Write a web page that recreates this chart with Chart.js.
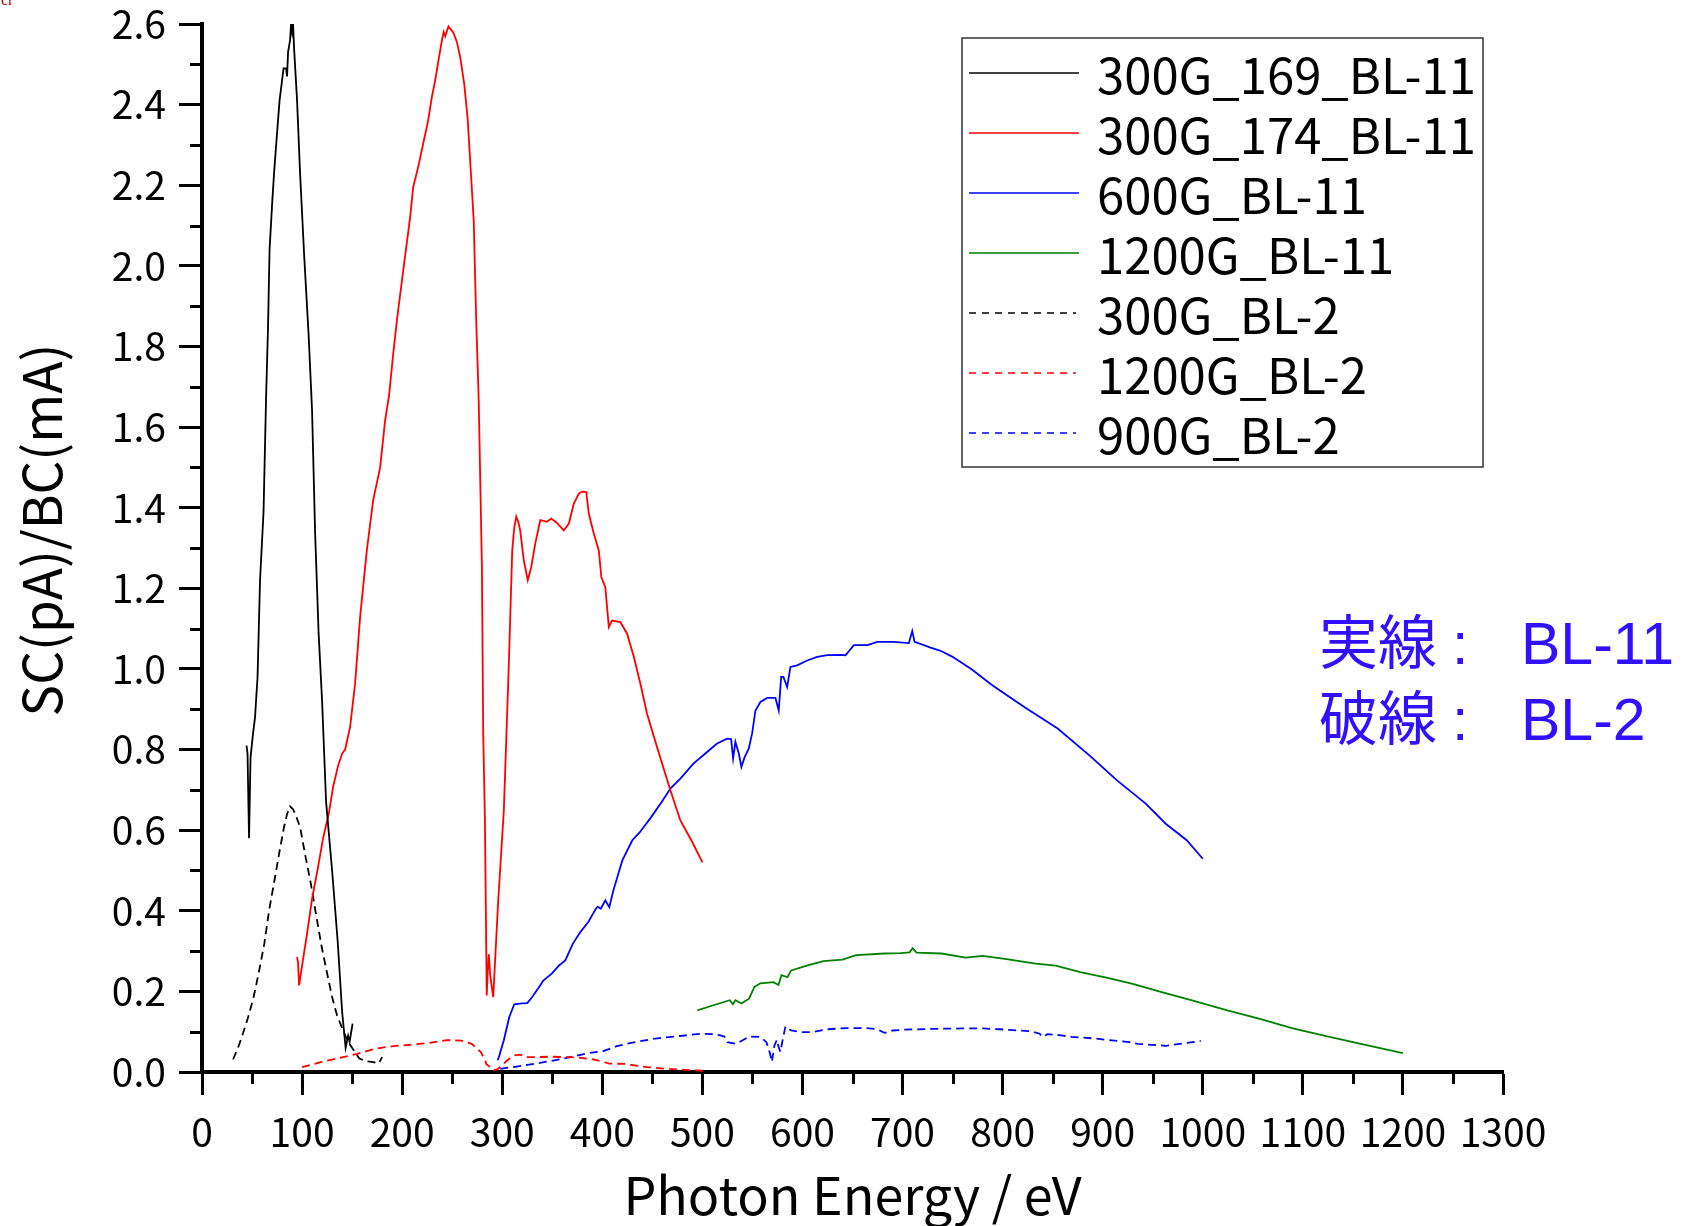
<!DOCTYPE html>
<html lang="ja">
<head>
<meta charset="UTF-8">
<title>SC/BC vs Photon Energy</title>
<script src="https://cdn.jsdelivr.net/npm/chart.js"></script>
<style>
  html, body { margin: 0; padding: 0; background: #fff; }
</style>
</head>
<body>
<canvas id="chart" width="1692" height="1226"></canvas>
<script>
// --- series (photon energy in eV, SC/BC values) ---
const g300_169_bl11_x = [44.5, 45.5, 47, 48.5, 51, 53, 55.5, 58, 61.5, 64, 66, 67.5, 70, 72, 75, 77.5, 80, 81.5, 84, 85, 86, 88, 89, 90, 91, 92, 95, 98, 102, 106.5, 110, 113, 116.5, 120, 124, 130, 135.7, 140, 143.5, 146, 147.5, 150.5];
const g300_169_bl11_y = [0.81, 0.79, 0.58, 0.78, 0.84, 0.88, 0.98, 1.22, 1.39, 1.67, 1.85, 2.04, 2.15, 2.23, 2.33, 2.41, 2.46, 2.49, 2.49, 2.47, 2.53, 2.56, 2.60, 2.58, 2.60, 2.54, 2.41, 2.23, 2.03, 1.83, 1.64, 1.34, 1.09, 0.92, 0.67, 0.50, 0.32, 0.15, 0.06, 0.09, 0.075, 0.12];

const g300_174_bl11_x = [95, 96, 97, 101, 105, 110, 116, 121, 126.6, 131, 136, 140, 143, 148, 153, 158, 164.7, 171, 178, 183, 187, 191, 195, 201.5, 208, 211, 216, 221, 226, 229.7, 233, 236.3, 239.7, 241.5, 243, 246.3, 251.3, 254.7, 258, 262, 265.3, 268, 271.5, 274, 276.5, 279.7, 281, 282.7, 284.5, 285.5, 286.6, 288, 291, 296, 301.6, 306.5, 310, 312, 314, 316, 318, 321.5, 325.5, 329, 333, 338, 344.7, 349, 354.7, 361.5, 366.5, 371.5, 376.5, 380, 384, 386.5, 391.5, 396.5, 399, 403, 406.5, 409.7, 418, 424.7, 431.5, 438, 444.7, 454.7, 468, 478, 490, 500];
const g300_174_bl11_y = [0.285, 0.27, 0.215, 0.28, 0.344, 0.43, 0.509, 0.58, 0.64, 0.707, 0.76, 0.79, 0.80, 0.856, 0.964, 1.129, 1.294, 1.418, 1.50, 1.617, 1.68, 1.78, 1.87, 1.997, 2.121, 2.195, 2.245, 2.303, 2.361, 2.419, 2.46, 2.51, 2.559, 2.58, 2.57, 2.594, 2.578, 2.555, 2.518, 2.452, 2.37, 2.26, 2.113, 1.865, 1.666, 1.253, 0.84, 0.624, 0.19, 0.25, 0.292, 0.24, 0.186, 0.426, 0.649, 1.005, 1.294, 1.35, 1.378, 1.365, 1.343, 1.27, 1.22, 1.253, 1.311, 1.369, 1.365, 1.373, 1.362, 1.344, 1.36, 1.41, 1.435, 1.44, 1.439, 1.385, 1.336, 1.294, 1.228, 1.203, 1.104, 1.12, 1.116, 1.088, 1.03, 0.964, 0.889, 0.806, 0.699, 0.624, 0.57, 0.52];

const g600_bl11_x = [295.5, 297, 301.6, 307, 312, 319.6, 325, 330, 338, 341, 349.5, 357, 363, 370.5, 378, 386, 393.5, 395.5, 398.5, 403, 407, 411, 420, 430, 437.5, 449, 460.5, 468, 478, 491, 504.7, 514.7, 524.7, 528.7, 530.7, 533, 536.4, 539, 542, 546.3, 549.7, 553, 558, 564.7, 573, 576.3, 578.7, 581, 584.7, 588, 594.7, 604.7, 614.7, 624.7, 638, 643, 651.3, 665, 674.7, 691, 706.3, 709.7, 712, 721.3, 728, 738, 750, 769, 790, 822, 855, 887, 914, 943, 963, 984, 1000];
const g600_bl11_y = [0.029, 0.04, 0.079, 0.136, 0.168, 0.17, 0.171, 0.186, 0.215, 0.227, 0.244, 0.265, 0.277, 0.318, 0.347, 0.372, 0.405, 0.41, 0.405, 0.426, 0.409, 0.45, 0.525, 0.575, 0.595, 0.633, 0.674, 0.703, 0.728, 0.765, 0.794, 0.815, 0.827, 0.826, 0.778, 0.819, 0.79, 0.757, 0.78, 0.802, 0.84, 0.897, 0.918, 0.928, 0.928, 0.897, 0.98, 0.98, 0.955, 1.005, 1.009, 1.021, 1.03, 1.034, 1.035, 1.034, 1.059, 1.059, 1.067, 1.067, 1.064, 1.094, 1.067, 1.059, 1.053, 1.045, 1.03, 0.999, 0.959, 0.905, 0.852, 0.785, 0.724, 0.666, 0.616, 0.575, 0.529];

const g1200_bl11_x = [495, 510, 527.4, 530.5, 533, 539, 546.6, 552, 558, 571, 576, 579, 585, 588.7, 606, 621, 640, 653.7, 682, 698, 707, 710, 714, 739, 763, 780, 804, 833, 853, 877.6, 906, 931, 959, 992, 1024.5, 1057, 1090, 1126.6, 1167, 1200];
const g1200_bl11_y = [0.153, 0.165, 0.178, 0.168, 0.178, 0.17, 0.182, 0.211, 0.22, 0.223, 0.216, 0.24, 0.235, 0.252, 0.265, 0.275, 0.279, 0.29, 0.294, 0.295, 0.297, 0.307, 0.296, 0.294, 0.284, 0.288, 0.28, 0.269, 0.264, 0.248, 0.233, 0.218, 0.198, 0.176, 0.153, 0.132, 0.108, 0.087, 0.065, 0.047];

const g300_bl2_x = [31, 36, 41, 46, 51.6, 57, 62.3, 67, 73, 78, 82, 85, 88, 91, 94, 98, 103, 108.7, 114, 119.6, 125, 130, 135, 141, 146, 151.6, 157, 163, 169.6, 176.7, 180];
const g300_bl2_y = [0.031, 0.06, 0.096, 0.135, 0.186, 0.25, 0.319, 0.40, 0.484, 0.555, 0.608, 0.64, 0.659, 0.652, 0.635, 0.608, 0.54, 0.468, 0.39, 0.31, 0.245, 0.186, 0.14, 0.103, 0.075, 0.054, 0.034, 0.027, 0.025, 0.022, 0.037];

const g1200_bl2_x = [100, 119.6, 141, 155, 173, 191, 209, 226.6, 244.4, 258.7, 269.4, 278.4, 283, 284, 289, 291.6, 296, 305, 312, 317.6, 325, 334, 348, 361, 376, 391.6, 407, 422, 445, 464, 491, 502];
const g1200_bl2_y = [0.012, 0.025, 0.037, 0.045, 0.058, 0.064, 0.068, 0.072, 0.079, 0.078, 0.07, 0.05, 0.029, 0.02, 0.01, 0.004, 0.008, 0.029, 0.041, 0.043, 0.037, 0.037, 0.038, 0.037, 0.036, 0.031, 0.021, 0.02, 0.012, 0.008, 0.004, 0.003];

const g900_bl2_x = [298, 316, 334, 361, 384, 401, 414.5, 430, 453, 476, 499, 510, 518, 522, 525, 533, 539, 546.6, 558, 564, 567.6, 569.5, 572, 574.5, 576, 578, 580, 583, 588.7, 598, 610, 625, 644, 663, 675, 682, 690, 702, 730, 759, 780, 797, 816, 828, 837, 840, 845, 858.5, 869, 893, 902, 927, 935, 963, 984, 998];
const g900_bl2_y = [0.008, 0.014, 0.021, 0.033, 0.046, 0.052, 0.064, 0.073, 0.083, 0.089, 0.095, 0.094, 0.091, 0.088, 0.074, 0.07, 0.077, 0.088, 0.087, 0.074, 0.046, 0.025, 0.066, 0.08, 0.063, 0.05, 0.077, 0.113, 0.103, 0.099, 0.099, 0.106, 0.109, 0.109, 0.106, 0.097, 0.103, 0.105, 0.107, 0.108, 0.108, 0.106, 0.103, 0.101, 0.095, 0.087, 0.094, 0.091, 0.087, 0.083, 0.08, 0.074, 0.07, 0.065, 0.072, 0.077];

const seriesLabels = ["300G_169_BL-11", "300G_174_BL-11", "600G_BL-11", "1200G_BL-11", "300G_BL-2", "1200G_BL-2", "900G_BL-2"];

// axis settings
const xMin = 0, xMax = 1300, xStep = 100, xMinorStep = 50;
const yMin = 0, yMax = 2.6, yStep = 0.2, yMinorStep = 0.1;
const xTitle = "Photon Energy / eV";
const yTitle = "SC(pA)/BC(mA)";
const noteLines = [["実線", "BL-11"], ["破線", "BL-2"]];

const FONT = '"Noto Sans CJK JP", "Noto Sans", sans-serif';

function pts(xs, ys) {
    return xs.map((x, i) => ({ x: x, y: ys[i] }));
}

function line(label, xs, ys, color, dashed) {
    return {
        label: label,
        data: pts(xs, ys),
        borderColor: color,
        backgroundColor: color,
        borderWidth: 1.8,
        borderDash: dashed ? [8, 5] : [],
        pointRadius: 0,
        tension: 0,
        fill: false
    };
}

// minor tick marks (Chart.js has no minor ticks)
const minorTicks = {
    id: "minorTicks",
    afterDraw(chart) {
        const ctx = chart.ctx;
        const xs = chart.scales.x, ys = chart.scales.y;
        const area = chart.chartArea;
        ctx.save();
        ctx.strokeStyle = "#000";
        ctx.lineWidth = 3;
        ctx.beginPath();
        for (let v = xMinorStep; v < xMax; v += xStep) {
            const px = Math.round(xs.getPixelForValue(v)) + 0.5;
            ctx.moveTo(px, area.bottom);
            ctx.lineTo(px, area.bottom + 12);
        }
        for (let v = yMinorStep; v < yMax; v += yStep) {
            const py = Math.round(ys.getPixelForValue(v)) + 0.5;
            ctx.moveTo(area.left, py);
            ctx.lineTo(area.left - 12, py);
        }
        ctx.stroke();
        ctx.restore();
    }
};

// boxed legend in the top right
const boxLegend = {
    id: "boxLegend",
    afterDraw(chart) {
        const ctx = chart.ctx;
        ctx.save();
        ctx.strokeStyle = "#333";
        ctx.lineWidth = 1.5;
        ctx.strokeRect(962, 38, 521, 429);
        chart.data.datasets.forEach((ds, i) => {
            const y = 73 + i * 60;
            ctx.strokeStyle = ds.borderColor;
            ctx.lineWidth = 1.5;
            ctx.setLineDash(ds.borderDash.length ? [7, 6] : []);
            ctx.beginPath();
            ctx.moveTo(969, y);
            ctx.lineTo(ds.borderDash.length ? 1076 : 1079, y);
            ctx.stroke();
            ctx.setLineDash([]);
            ctx.fillStyle = "#000";
            ctx.font = "49px " + FONT;
            ctx.textBaseline = "middle";
            ctx.textAlign = "left";
            ctx.fillText(ds.label, 1097, y + 2);
        });
        ctx.restore();
    }
};

// y title, blue note, small corner mark
const extras = {
    id: "extras",
    afterDraw(chart) {
        const ctx = chart.ctx;
        ctx.save();
        // y axis title
        ctx.translate(42, 530);
        ctx.rotate(-Math.PI / 2);
        ctx.font = "53px " + FONT;
        ctx.fillStyle = "#000";
        ctx.textAlign = "center";
        ctx.textBaseline = "middle";
        ctx.fillText(yTitle, 0, 0);
        ctx.restore();

        ctx.save();
        ctx.fillStyle = "#3010ff";
        ctx.font = '59px "Liberation Sans", "Noto Sans CJK JP", sans-serif';
        ctx.textBaseline = "alphabetic";
        noteLines.forEach((ln, i) => {
            const by = 664 + i * 76;
            ctx.textAlign = "left";
            ctx.fillText(ln[0], 1319, by);
            ctx.fillText(":", 1452, by);
            ctx.fillText(ln[1], 1521, by);
        });
        ctx.fillStyle = "#c00000";
        ctx.font = "16px 'Liberation Serif', serif";
        ctx.fillText("cr", 1, 5);
        ctx.restore();
    }
};

const chart = new Chart(document.getElementById("chart"), {
    type: "line",
    data: {
        datasets: [
            line(seriesLabels[0], g300_169_bl11_x, g300_169_bl11_y, "#000000", false),
            line(seriesLabels[1], g300_174_bl11_x, g300_174_bl11_y, "#ff0000", false),
            line(seriesLabels[2], g600_bl11_x, g600_bl11_y, "#0000ff", false),
            line(seriesLabels[3], g1200_bl11_x, g1200_bl11_y, "#008000", false),
            line(seriesLabels[4], g300_bl2_x, g300_bl2_y, "#000000", true),
            line(seriesLabels[5], g1200_bl2_x, g1200_bl2_y, "#ff0000", true),
            line(seriesLabels[6], g900_bl2_x, g900_bl2_y, "#0000ff", true)
        ]
    },
    options: {
        responsive: false,
        animation: false,
        devicePixelRatio: 1,
        layout: { padding: { left: 0, top: 24, right: 189, bottom: 0 } },
        plugins: {
            legend: { display: false },
            tooltip: { enabled: false }
        },
        scales: {
            x: {
                type: "linear",
                min: xMin,
                max: xMax,
                afterFit: s => { s.height = 154; s.paddingLeft = 0; s.paddingRight = 0; },
                ticks: {
                    stepSize: xStep,
                    autoSkip: false,
                    maxRotation: 0,
                    padding: 14,
                    color: "#000",
                    font: { family: FONT, size: 39 },
                    callback: v => String(v)
                },
                grid: {
                    drawOnChartArea: false,
                    drawTicks: true,
                    tickLength: 23,
                    tickWidth: 3,
                    tickColor: "#000"
                },
                border: { display: true, color: "#000", width: 4 },
                title: {
                    display: true,
                    text: xTitle,
                    color: "#000",
                    font: { family: FONT, size: 52 },
                    padding: { top: 0, bottom: 0 }
                }
            },
            y: {
                type: "linear",
                min: yMin,
                max: yMax,
                afterFit: s => { s.width = 202; s.paddingTop = 0; s.paddingBottom = 0; },
                ticks: {
                    stepSize: yStep,
                    padding: 13,
                    color: "#000",
                    font: { family: FONT, size: 39 },
                    callback: v => Number(v).toFixed(1)
                },
                grid: {
                    drawOnChartArea: false,
                    drawTicks: true,
                    tickLength: 23,
                    tickWidth: 3,
                    tickColor: "#000"
                },
                border: { display: true, color: "#000", width: 4 }
            }
        }
    },
    plugins: [minorTicks, boxLegend, extras]
});
</script>
</body>
</html>
